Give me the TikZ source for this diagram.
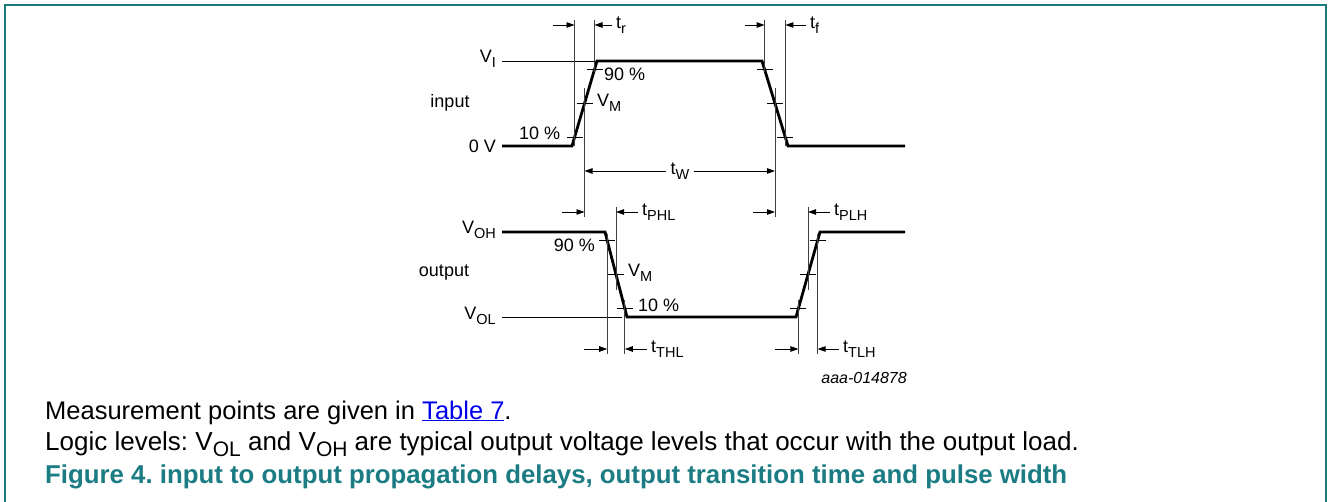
\documentclass[tikz,border=0pt]{standalone}
\usepackage{fontspec}
\setmainfont{Liberation Sans}
\usetikzlibrary{arrows.meta,calc}
\definecolor{frameteal}{HTML}{1B7A80}
\definecolor{capteal}{HTML}{1B7C84}
\definecolor{linkblue}{HTML}{0000EE}
\newcommand\lsub[1]{\raisebox{-4.5pt}{\fontsize{14.5}{14.5}\selectfont #1}}
\newcommand\bsub[1]{\raisebox{-6pt}{\fontsize{21}{21}\selectfont #1}}
\frenchspacing
\begin{document}
\begin{tikzpicture}[x=1pt,y=-1pt,
  wave/.style={line width=2.8pt, line join=miter},
  refline/.style={line width=0.9pt},
  vline/.style={line width=0.9pt, black!75},
  tickmark/.style={line width=0.8pt},
  arr/.style={line width=0.9pt, -{Triangle[length=8pt,width=5.5pt]}},
  lbl/.style={font=\fontsize{18}{20}\selectfont, inner sep=0pt},
  body/.style={font=\fontsize{25.5}{28}\selectfont, inner sep=0pt, anchor=base west},
]
\useasboundingbox (0,0) rectangle (1333,502);
\draw[frameteal, line width=2pt] (5,502) -- (5,5) -- (1326,5) -- (1326,502);

% input waveform
\coordinate (i0) at (502,146);
\coordinate (i1) at (572,146);
\coordinate (i2) at (597,61);
\coordinate (i3) at (762,61);
\coordinate (i4) at (788,146);
\coordinate (i5) at (905,146);
\draw[refline] (502,61) -- (i2);
\draw[wave] (i0) -- (i1) -- (i2) -- (i3) -- (i4) -- (i5);
\coordinate (ir10) at ($(i1)!0.1!(i2)$);
\coordinate (irM) at ($(i1)!0.5!(i2)$);
\coordinate (ir90) at ($(i1)!0.9!(i2)$);
\coordinate (if90) at ($(i3)!0.1!(i4)$);
\coordinate (ifM) at ($(i3)!0.5!(i4)$);
\coordinate (if10) at ($(i3)!0.9!(i4)$);

% output waveform
\coordinate (o0) at (502,232);
\coordinate (o1) at (605,232);
\coordinate (o2) at (627,317);
\coordinate (o3) at (796,317);
\coordinate (o4) at (820,232);
\coordinate (o5) at (905,232);
\draw[refline] (502,317) -- (622,317);
\draw[wave] (o0) -- (o1) -- (o2) -- (o3) -- (o4) -- (o5);
\coordinate (of90) at ($(o1)!0.1!(o2)$);
\coordinate (ofM) at ($(o1)!0.5!(o2)$);
\coordinate (of10) at ($(o1)!0.9!(o2)$);
\coordinate (or10) at ($(o3)!0.1!(o4)$);
\coordinate (orM) at ($(o3)!0.5!(o4)$);
\coordinate (or90) at ($(o3)!0.9!(o4)$);

% ticks
\foreach \p in {ir10,irM,ir90,if90,ifM,if10,of90,ofM,of10,or10,orM,or90}
  \draw[tickmark] ($(\p)+(-8,0)$) -- ($(\p)+(8,0)$);

% vertical measurement lines
\draw[vline] (ir10 |- 0,20) -- (ir10 |- 0,146);
\draw[vline] (ir90 |- 0,20) -- (ir90 |- 0,72);
\draw[vline] (irM |- 0,88) -- (irM |- 0,217);
\draw[vline] (if90 |- 0,20) -- (if90 |- 0,72);
\draw[vline] (if10 |- 0,20) -- (if10 |- 0,146);
\draw[vline] (ifM |- 0,88) -- (ifM |- 0,217);
\draw[vline] (ofM |- 0,207) -- (ofM |- 0,290);
\draw[vline] (of90 |- 0,234) -- (of90 |- 0,354);
\draw[vline] (of10 |- 0,300) -- (of10 |- 0,354);
\draw[vline] (orM |- 0,207) -- (orM |- 0,290);
\draw[vline] (or10 |- 0,300) -- (or10 |- 0,354);
\draw[vline] (or90 |- 0,234) -- (or90 |- 0,354);

% timing arrows
\coordinate (tra) at (553,25);  \coordinate (trb) at (612,25);
\draw[arr] (tra) -- (ir10 |- tra);
\draw[arr] (trb) -- (ir90 |- trb);
\node[lbl, anchor=west] (tr) at (616,25) {t\lsub{r}};
\coordinate (tfa) at (745,25);  \coordinate (tfb) at (806,25);
\draw[arr] (tfa) -- (if90 |- tfa);
\draw[arr] (tfb) -- (if10 |- tfb);
\node[lbl, anchor=west] (tf) at (810,25) {t\lsub{f}};
\node[lbl] (tw) at (680,171) {t\lsub{W}};
\draw[arr] (tw.west) ++(-4,0) coordinate (twa) -- (irM |- twa);
\draw[arr] (tw.east) ++(4,0) coordinate (twb) -- (ifM |- twb);
\coordinate (tpa) at (562,212);  \coordinate (tpb) at (638,212);
\draw[arr] (tpa) -- (irM |- tpa);
\draw[arr] (tpb) -- (ofM |- tpb);
\node[lbl, anchor=west] (tphl) at (642,212) {t\lsub{PHL}};
\coordinate (tqa) at (753,212);  \coordinate (tqb) at (830,212);
\draw[arr] (tqa) -- (ifM |- tqa);
\draw[arr] (tqb) -- (orM |- tqb);
\node[lbl, anchor=west] (tplh) at (834,212) {t\lsub{PLH}};
\coordinate (tta) at (584,349);  \coordinate (ttb) at (647,349);
\draw[arr] (tta) -- (of90 |- tta);
\draw[arr] (ttb) -- (of10 |- ttb);
\node[lbl, anchor=west] (tthl) at (651,349) {t\lsub{THL}};
\coordinate (tua) at (775,349);  \coordinate (tub) at (839,349);
\draw[arr] (tua) -- (or10 |- tua);
\draw[arr] (tub) -- (or90 |- tub);
\node[lbl, anchor=west] (ttlh) at (843,349) {t\lsub{TLH}};

% level labels
\node[lbl, anchor=east] (vi) at (496,59) {V\lsub{I}};
\node[lbl] (inp) at (450,103) {input};
\node[lbl, anchor=east] (zv) at (496,146) {0 V};
\node[lbl, anchor=east] (voh) at (496,230) {V\lsub{OH}};
\node[lbl] (outp) at (444,273) {output};
\node[lbl, anchor=east] (vol) at (496,316) {V\lsub{OL}};

% percentage labels
\node[lbl, anchor=west] (i90) at (604,74) {90 \%};
\node[lbl, anchor=west] (ivm) at (597,103) {V\lsub{M}};
\node[lbl, anchor=west] (i10) at (519,133) {10 \%};
\node[lbl, anchor=east] (o90) at (595,245) {90 \%};
\node[lbl, anchor=west] (ovm) at (628,273) {V\lsub{M}};
\node[lbl, anchor=west] (o10) at (638,305) {10 \%};

\node[inner sep=0pt, anchor=east, font=\fontsize{16}{18}\selectfont\itshape] (code) at (907,378) {aaa-014878};

% text below
\node[body] (t1) at (45,419) {Measurement points are given in \textcolor{linkblue}{\underline{Table 7}}.};
\node[body, font=\fontsize{26}{28}\selectfont] (t2) at (45,450) {Logic levels: V\bsub{OL} and V\bsub{OH} are typical output voltage levels that occur with the output load.};
\node[body, text=capteal, font=\fontsize{25.8}{28}\selectfont\bfseries] (t3) at (45,483) {Figure 4. input to output propagation delays, output transition time and pulse width};
\end{tikzpicture}
\end{document}
